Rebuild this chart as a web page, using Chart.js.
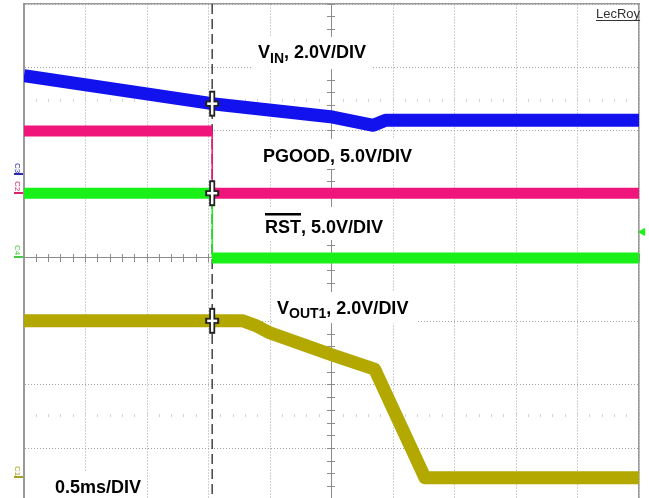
<!DOCTYPE html>
<html>
<head>
<meta charset="utf-8">
<script src="https://cdn.jsdelivr.net/npm/chart.js@4.4.1/dist/chart.umd.min.js"></script>
<style>
  html, body { margin: 0; padding: 0; background: #fff; overflow: hidden; }
  #wrap { width: 649px; height: 498px; }
</style>
</head>
<body>
<div id="wrap"><canvas id="scope" width="649" height="498"></canvas></div>
<script>
// x: time in ms (0.5 ms/div, 10 div). y: screen divisions, 0 = centre graticule line
const triggerTime = 1.53;

const vinTime = [0, 1.53, 2.51, 2.84, 2.94, 5.0];
const vinDiv  = [2.87, 2.43, 2.22, 2.09, 2.17, 2.17];

const pgoodTime = [0, 1.53, 1.53, 5.0];
const pgoodDiv  = [2.0, 2.0, 1.02, 1.02];

const rstTime = [0, 1.53, 1.53, 5.0];
const rstDiv  = [1.02, 1.02, 0, 0];

const vout1Time = [0, 1.78, 1.88, 2.0, 2.51, 2.85, 3.26, 5.0];
const vout1Div  = [-0.99, -0.99, -1.06, -1.18, -1.53, -1.75, -3.46, -3.46];

// trigger crosshairs on the traces, and the C4 trigger-level arrow
const crossDiv = [2.43, 1.02, -0.99];
const trigLevelTime = [5.03];
const trigLevelDiv = [0.41];

// graticule
const timeGrid = [0, 0.5, 1, 1.5, 2, 2.5, 3, 3.5, 4, 4.5, 5];
const divGrid = [-3, -2, -1, 0, 1, 2, 3, 4];
const divMin = -3.78;
const divMax = 4;

// texts
const vinLabel = ['V', 'IN', ', 2.0V/DIV'];
const pgoodLabel = ['PGOOD, 5.0V/DIV'];
const rstLabel = ['RST', ', 5.0V/DIV'];
const vout1Label = ['V', 'OUT1', ', 2.0V/DIV'];
const timebaseLabel = '0.5ms/DIV';
const brandLabel = 'LecRoy';
const channelTags = ['C3', 'C2', 'C4', 'C1'];

const colors = {
    vin: '#1212ee',
    pgood: '#f0157b',
    rst: '#18f018',
    vout1: '#b2a800',
    grid: '#a3a3a3',
    frame: '#9a9a9a',
    axis: '#8c8c8c'
};

const minorTime = [];
for (let i = 0; i <= 50; i++) minorTime.push(i / 10);
const minorDiv = [];
for (let i = -18; i <= 20; i++) minorDiv.push(i / 5);

function pairs(xs, ys) {
    return xs.map((x, i) => ({ x: x, y: ys[i] }));
}

function fixedTicks(values) {
    return scale => { scale.ticks = values.map(v => ({ value: v })); };
}

function tickAxis(axis, position, values, len, color, showBorder) {
    const isX = axis === 'x';
    return {
        type: 'linear',
        axis: axis,
        position: position,
        min: isX ? 0 : divMin,
        max: isX ? 5 : divMax,
        afterBuildTicks: fixedTicks(values),
        ticks: { display: false },
        grid: { drawOnChartArea: false, drawTicks: true, tickLength: len, tickColor: color, tickWidth: 1 },
        border: { display: showBorder, color: colors.axis, width: 1 }
    };
}

const FONT = '"Liberation Sans", Arial, sans-serif';

// draw a label built from parts [{t, size, dy}] starting at x, baseline y
function drawParts(ctx, x, y, parts) {
    let cx = x;
    parts.forEach(p => {
        ctx.font = 'bold ' + p.size + 'px ' + FONT;
        ctx.fillText(p.t, cx, y + (p.dy || 0));
        const w = ctx.measureText(p.t).width;
        if (p.overline) {
            ctx.fillRect(cx, y - p.size - 2, w, 2.5);
        }
        cx += w;
    });
}

const scopeOverlay = {
    id: 'scopeOverlay',
    afterDatasetsDraw(chart) {
        const ctx = chart.ctx;
        ctx.save();

        // white boxes behind the labels
        ctx.fillStyle = '#ffffff';
        ctx.fillRect(252, 37, 120, 32);
        ctx.fillRect(258, 139, 160, 30);
        ctx.fillRect(260, 207, 130, 33);
        ctx.fillRect(272, 292, 146, 31);
        ctx.fillRect(50, 472, 96, 26);

        ctx.fillStyle = '#000000';
        ctx.textBaseline = 'alphabetic';
        drawParts(ctx, 258, 58, [
            { t: vinLabel[0], size: 18 },
            { t: vinLabel[1], size: 14, dy: 5 },
            { t: vinLabel[2], size: 18 }
        ]);
        drawParts(ctx, 263, 162, [{ t: pgoodLabel[0], size: 18 }]);
        drawParts(ctx, 265, 233, [
            { t: rstLabel[0], size: 18, overline: true },
            { t: rstLabel[1], size: 18 }
        ]);
        drawParts(ctx, 277, 314, [
            { t: vout1Label[0], size: 18 },
            { t: vout1Label[1], size: 14, dy: 4 },
            { t: vout1Label[2], size: 18 }
        ]);
        drawParts(ctx, 55, 493, [{ t: timebaseLabel, size: 18 }]);

        // scope brand
        ctx.fillStyle = '#333333';
        ctx.font = '13px ' + FONT;
        ctx.fillText(brandLabel, 596, 18);
        ctx.fillRect(596, 20, ctx.measureText(brandLabel).width, 1);

        // channel ground markers on the left
        const tagColors = ['#2a2ab0', '#d8206e', '#44cc44', '#a8a020'];
        const tagY = [168, 186, 250, 471];
        const barY = [174, 193, 257, 477];
        ctx.font = '8px ' + FONT;
        ctx.textAlign = 'center';
        ctx.textBaseline = 'middle';
        channelTags.forEach((tag, i) => {
            ctx.fillStyle = tagColors[i];
            ctx.save();
            ctx.translate(17, tagY[i]);
            ctx.rotate(Math.PI / 2);
            ctx.fillText(tag, 0, 0);
            ctx.restore();
            ctx.fillRect(14, barY[i] - 1, 9, 2);
        });

        ctx.restore();
    }
};

const traceLine = (label, xs, ys, color, width) => ({
    label: label,
    data: pairs(xs, ys),
    borderColor: color,
    borderWidth: width,
    borderJoinStyle: 'round',
    pointRadius: 0,
    tension: 0,
    clip: 0
});

const stepLine = (label, xs, ys, color) => ({
    label: label,
    data: pairs(xs, ys),
    borderColor: color,
    borderWidth: 11,
    pointRadius: 0,
    tension: 0,
    clip: 0,
    segment: {
        borderWidth: c => (c.p0.parsed.x === c.p1.parsed.x ? 1.5 : 11)
    }
});

const crossPart = (radius, rotation, width, color) => ({
    data: crossDiv.map(y => ({ x: triggerTime, y: y })),
    showLine: false,
    pointStyle: 'line',
    pointRadius: radius,
    rotation: rotation,
    borderWidth: width,
    pointBorderColor: color,
    borderColor: color,
    clip: false
});

new Chart(document.getElementById('scope'), {
    type: 'line',
    data: {
        datasets: [
            // first dataset is drawn on top
            crossPart(5, 0, 2.5, '#ffffff'),
            crossPart(11, 90, 2.5, '#ffffff'),
            crossPart(7, 0, 6, '#222222'),
            crossPart(13, 90, 6, '#222222'),
            {
                data: pairs(trigLevelTime, trigLevelDiv),
                showLine: false,
                pointStyle: 'triangle',
                rotation: -90,
                pointRadius: 4,
                pointBackgroundColor: colors.rst,
                pointBorderColor: colors.rst,
                clip: false
            },
            traceLine('VIN', vinTime, vinDiv, colors.vin, 13),
            stepLine('PGOOD', pgoodTime, pgoodDiv, colors.pgood),
            stepLine('RST', rstTime, rstDiv, colors.rst),
            traceLine('VOUT1', vout1Time, vout1Div, colors.vout1, 13),
            {
                label: 'trigger',
                data: [{ x: triggerTime, y: divMax }, { x: triggerTime, y: divMin }],
                borderColor: '#444444',
                borderWidth: 1.5,
                borderDash: [10, 5],
                pointRadius: 0,
                clip: 0
            }
        ]
    },
    options: {
        responsive: false,
        animation: false,
        layout: { autoPadding: false, padding: { left: 24, top: 4, right: 10, bottom: 0 } },
        plugins: {
            legend: { display: false },
            tooltip: { enabled: false }
        },
        scales: {
            x: {
                type: 'linear',
                position: 'top',
                min: 0,
                max: 5,
                afterBuildTicks: fixedTicks(timeGrid),
                ticks: { display: false },
                grid: { color: colors.grid, lineWidth: 1, drawTicks: false },
                border: { display: true, color: colors.frame, width: 1.5, dash: [1, 2] }
            },
            y: {
                type: 'linear',
                position: 'left',
                min: divMin,
                max: divMax,
                afterBuildTicks: fixedTicks(divGrid),
                ticks: { display: false },
                grid: { color: colors.grid, lineWidth: 1, drawTicks: false },
                border: { display: true, color: colors.frame, width: 2, dash: [1, 2] }
            },
            yFrame: {
                type: 'linear',
                axis: 'y',
                position: 'right',
                min: 0,
                max: 1,
                ticks: { display: false },
                grid: { display: false, drawTicks: false },
                border: { display: true, color: colors.frame, width: 1.5 }
            },
            xMid: tickAxis('x', { y: 0 }, minorTime, 4, colors.axis, true),
            xMidUp: tickAxis('x', { y: 0.063 }, minorTime, 4, colors.axis, false),
            yMid: tickAxis('y', { x: 2.5 }, minorDiv, 4, colors.axis, true),
            yMidRight: tickAxis('y', { x: 2.5325 }, minorDiv, 4, colors.axis, false),
            xFaintTop: tickAxis('x', { y: 2.5 }, minorTime, 3, '#d4d4d4', false),
            xFaintLow: tickAxis('x', { y: -2.45 }, minorTime, 3, '#d4d4d4', false)
        }
    },
    plugins: [scopeOverlay]
});
</script>
</body>
</html>
